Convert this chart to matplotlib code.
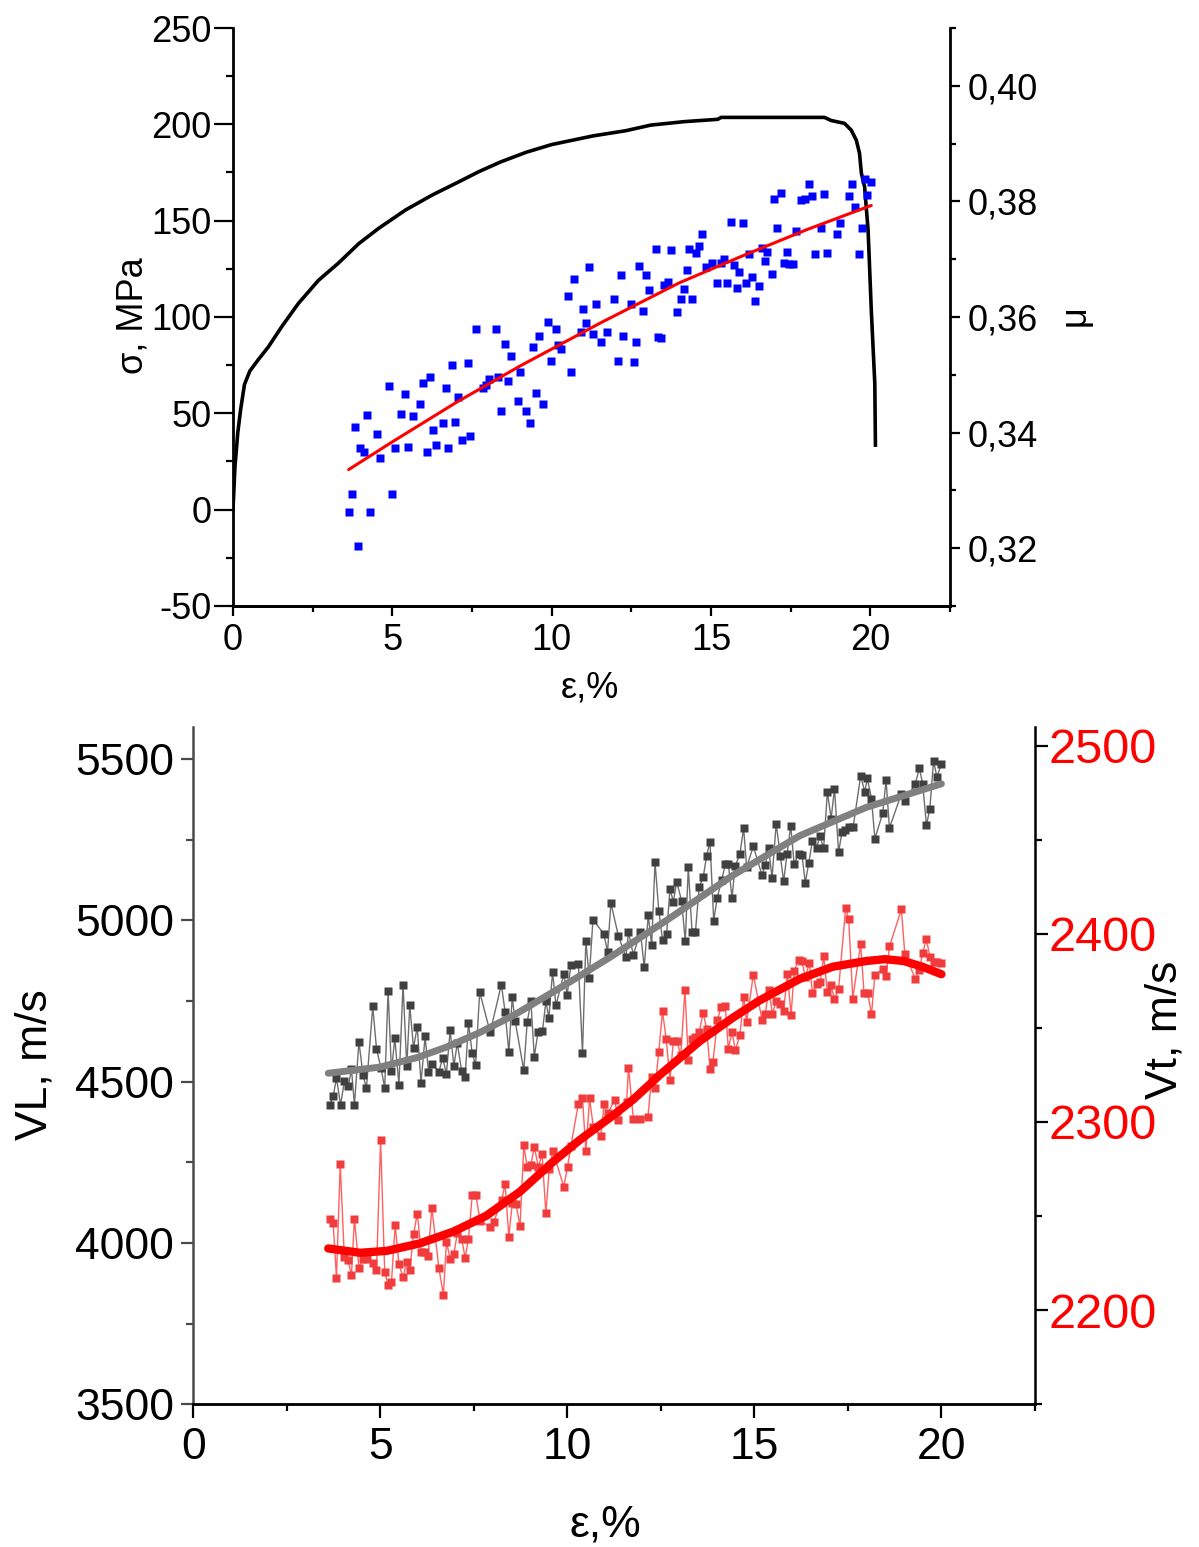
import numpy as np
import matplotlib
matplotlib.use("Agg")
import matplotlib.pyplot as plt
from matplotlib.ticker import MultipleLocator, FuncFormatter

plt.rcParams['font.family'] = ['Liberation Sans', 'DejaVu Sans']
plt.rcParams['axes.unicode_minus'] = False

W, H = 1199, 1547

# ---- top panel: stress-strain curve (left axis) ----
curve_strain = [0.0, 0.06, 0.15, 0.24, 0.36, 0.53, 0.80, 1.11, 1.53, 2.05,
                2.68, 3.31, 3.94, 4.57, 5.41, 6.25, 7.09, 7.71, 8.4, 9.2,
                10.0, 11.3, 12.33, 13.11, 14.16, 15.21, 15.32, 18.56, 18.77, 19.19,
                19.40, 19.56, 19.66, 19.72, 19.82, 19.93, 20.03, 20.14, 20.16]
curve_stress = [0, 22, 40, 52, 65, 72, 78, 84.5, 95, 107,
                119, 128, 138, 146, 155.5, 163.3, 170.2, 175.4, 180.5, 185.5,
                189.5, 194, 196.7, 199.6, 201.4, 202.6, 203.6, 203.6, 202, 200.5,
                197, 191.8, 185, 174.5, 167.6, 145, 103.6, 65.5, 33.5]

# ---- top panel: friction coefficient mu (right axis) ----
mu_strain = [3.63, 3.73, 3.92, 4.31, 5.00, 3.82, 4.22, 4.53, 4.00, 4.11,
             4.61, 4.91, 5.09, 5.41, 5.28, 5.49, 5.66, 5.88, 5.97, 6.18,
             6.28, 6.08, 6.36, 6.58, 6.67, 6.75, 6.87, 6.98, 7.06, 7.20,
             7.45, 7.37, 7.64, 7.84, 7.93, 8.03, 8.24, 8.33, 8.42, 8.54,
             8.64, 8.72, 8.94, 9.02, 9.20, 9.33, 9.42, 9.51, 9.59, 9.73,
             9.90, 9.99, 10.13, 10.21, 10.29, 10.51, 10.60, 10.69, 10.91, 10.99,
             11.08, 11.16, 11.30, 11.39, 11.56, 11.74,
             11.96, 12.09, 12.17, 12.25, 12.48, 12.57, 12.66, 12.75, 12.87, 12.97,
             13.05, 13.27, 13.35, 13.44, 13.53, 13.65, 13.74, 13.93, 14.06, 14.14,
             14.24, 14.32, 14.40, 14.54, 14.62, 14.71, 14.84, 15.02, 15.20, 15.31,
             15.41, 15.49, 15.63, 15.71, 15.81, 15.89, 16.01, 16.11, 16.20, 16.29,
             16.38, 16.51, 16.59, 16.68, 16.77, 16.90, 16.97, 17.08, 17.20, 17.28,
             17.38, 17.46, 17.56, 17.68, 17.83, 17.96, 18.07, 18.17, 18.25, 18.46,
             18.54, 18.65, 18.95, 19.04, 19.33, 19.42, 19.53, 19.66, 19.74, 19.82,
             19.91, 20.03]
mu_vals = [0.3263, 0.3294, 0.3203, 0.3263, 0.3294, 0.3409, 0.3430, 0.3397, 0.3374, 0.3366,
           0.3356, 0.3481, 0.3373, 0.3467, 0.3433, 0.3375, 0.3429, 0.3449, 0.3486, 0.3497,
           0.3404, 0.3366, 0.3378, 0.3416, 0.3478, 0.3373, 0.3517, 0.3418, 0.3462, 0.3387,
           0.3394, 0.3520, 0.3579, 0.3477, 0.3483, 0.3493, 0.3579, 0.3497, 0.3438, 0.3553,
           0.3490, 0.3533, 0.3454, 0.3505, 0.3438, 0.3416, 0.3548, 0.3469, 0.3567, 0.3449,
           0.3591, 0.3524, 0.3579, 0.3552, 0.3545, 0.3637, 0.3505, 0.3666, 0.3574, 0.3613,
           0.3589, 0.3687, 0.3570, 0.3622, 0.3557, 0.3574,
           0.3632, 0.3524, 0.3672, 0.3567, 0.3622, 0.3522, 0.3557, 0.3689, 0.3610, 0.3672,
           0.3646, 0.3718, 0.3565, 0.3563, 0.3655, 0.3660, 0.3716, 0.3608, 0.3632, 0.3648,
           0.3682, 0.3718, 0.3632, 0.3711, 0.3722, 0.3744, 0.3687, 0.3694, 0.3658, 0.3694,
           0.3701, 0.3658, 0.3764, 0.3690, 0.3651, 0.3678, 0.3763, 0.3658, 0.3709, 0.3670,
           0.3627, 0.3653, 0.3720, 0.3697, 0.3713, 0.3675, 0.3805, 0.3754, 0.3815, 0.3694,
           0.3713, 0.3692, 0.3692, 0.3748, 0.3802, 0.3804, 0.3830, 0.3809, 0.3709, 0.3754,
           0.3813, 0.3711, 0.3744, 0.3763, 0.3810, 0.3830, 0.3790, 0.3709, 0.3754, 0.3838,
           0.3811, 0.3833]
mu_fit_strain = [3.63, 5.0, 7.0, 9.0, 11.54, 14.0, 16.0, 18.0, 20.03]
mu_fit_vals = [0.3336, 0.3384, 0.3452, 0.3515, 0.3590, 0.3659, 0.3706, 0.3751, 0.3793]

# ---- bottom panel: longitudinal velocity VL (left axis) ----
vl_strain = [3.65, 3.74, 3.83, 3.94, 4.04, 4.15, 4.23, 4.31, 4.43, 4.54,
             4.63, 4.80, 4.90, 5.02, 5.12, 5.21, 5.30, 5.39, 5.50, 5.61,
             5.71, 5.79, 5.89, 5.99, 6.09, 6.20, 6.29, 6.38, 6.57, 6.67,
             6.77, 6.87, 6.97, 7.06, 7.18, 7.27, 7.36, 7.46, 7.55, 7.66,
             7.94, 8.24, 8.34, 8.44, 8.53, 8.61, 8.84, 8.93, 9.03, 9.12,
             9.22, 9.34, 9.43, 9.51, 9.61, 9.70, 9.91, 10.00, 10.10, 10.30,
             10.41, 10.50, 10.59, 10.69, 10.98, 11.08, 11.17, 11.37, 11.57, 11.64,
             11.77, 11.96, 12.06, 12.17, 12.26, 12.35, 12.45, 12.55, 12.66, 12.75,
             12.84, 12.93, 13.06, 13.16, 13.24, 13.34, 13.43, 13.53, 13.64, 13.73,
             13.82, 13.92, 14.01, 14.13, 14.23, 14.31, 14.41, 14.49, 14.62, 14.72,
             14.80, 14.98, 15.21, 15.30, 15.39, 15.48, 15.59, 15.70, 15.79, 15.88,
             15.98, 16.07, 16.19, 16.28, 16.37, 16.46, 16.56, 16.67, 16.76, 16.86,
             16.96, 17.06, 17.15, 17.26, 17.35, 17.44, 17.55, 17.65, 17.85, 17.96,
             18.03, 18.14, 18.23, 18.44, 18.53, 18.62, 18.94, 19.03, 19.31, 19.42,
             19.51, 19.61, 19.70, 19.80, 19.89, 20.01]
vl_vals = [4428, 4454, 4511, 4428, 4501, 4487, 4539, 4428, 4623, 4521,
           4479, 4733, 4602, 4542, 4481, 4782, 4532, 4635, 4491, 4801,
           4547, 4736, 4605, 4670, 4496, 4640, 4531, 4556, 4531, 4574,
           4524, 4659, 4548, 4619, 4532, 4513, 4681, 4588, 4552, 4778,
           4653, 4801, 4716, 4591, 4761, 4687, 4535, 4684, 4749, 4577,
           4654, 4657, 4749, 4698, 4840, 4736, 4833, 4769, 4862, 4864,
           4588, 4937, 4822, 5002, 4958, 4903, 5053, 4952, 4886, 4963,
           4893, 4965, 4855, 5016, 4923, 5180, 5030, 4940, 4957, 5097,
           5058, 5119, 5061, 4935, 5165, 4963, 4963, 5102, 5134, 5200,
           5244, 4998, 5068, 5124, 5173, 5175, 5069, 5167, 5205, 5286,
           5165, 5229, 5140, 5172, 5223, 5131, 5299, 5200, 5121, 5205,
           5293, 5175, 5205, 5203, 5116, 5177, 5247, 5224, 5260, 5224,
           5398, 5315, 5408, 5211, 5273, 5281, 5289, 5289, 5448, 5398,
           5440, 5377, 5253, 5332, 5434, 5286, 5392, 5369, 5423, 5471,
           5423, 5294, 5346, 5494, 5444, 5485]
vl_fit_strain = [3.61, 4.99, 6.0, 6.77, 7.66, 8.56, 9.8, 10.34, 11.14, 12.66,
                 14.44, 16.22, 18.0, 20.01]
vl_fit_vals = [4526, 4545, 4575, 4607, 4652, 4705, 4790, 4828, 4885, 5000,
               5140, 5262, 5350, 5423]

# ---- bottom panel: transverse velocity Vt (right axis) ----
vt_strain = [3.65, 3.74, 3.83, 3.93, 4.04, 4.14, 4.23, 4.31, 4.43, 4.54,
             4.64, 4.80, 4.90, 5.01, 5.12, 5.21, 5.30, 5.40, 5.50, 5.61,
             5.71, 5.79, 5.89, 5.99, 6.10, 6.20, 6.28, 6.38, 6.57, 6.69,
             6.77, 6.87, 6.97, 7.06, 7.18, 7.27, 7.36, 7.46, 7.56, 7.67,
             7.94, 8.04, 8.25, 8.34, 8.44, 8.53, 8.63, 8.74, 8.84, 8.93,
             9.03, 9.12, 9.23, 9.33, 9.43, 9.52, 9.62, 9.91, 10.01, 10.10,
             10.30, 10.41, 10.50, 10.60, 10.70, 10.90, 10.99, 11.08, 11.27, 11.37,
             11.59, 11.64,
             11.77, 11.96, 12.16, 12.26, 12.35, 12.45, 12.55, 12.65, 12.75, 12.84,
             12.93, 13.04, 13.15, 13.24, 13.33, 13.42, 13.53, 13.64, 13.73, 13.82,
             13.90, 14.02, 14.12, 14.23, 14.31, 14.41, 14.50, 14.62, 14.72, 14.80,
             14.98, 15.21, 15.30, 15.39, 15.49, 15.59, 15.70, 15.79, 15.89, 15.99,
             16.07, 16.19, 16.28, 16.37, 16.48, 16.56, 16.67, 16.77, 16.86, 16.96,
             17.05, 17.15, 17.26, 17.45, 17.53, 17.64, 17.85, 17.94, 18.04, 18.14,
             18.23, 18.44, 18.53, 18.62, 18.94, 19.03, 19.31, 19.42, 19.51, 19.61,
             19.70, 19.80, 19.89, 20.01]
vt_vals = [2248.7, 2246.5, 2217.3, 2277.6, 2228.1, 2226.8, 2218.5, 2248.7, 2222.6, 2227.2,
           2227.2, 2224.9, 2221.3, 2290.2, 2220.1, 2213.5, 2214.8, 2245.2, 2224.5, 2217.4,
           2225.8, 2221.3, 2240.3, 2251.2, 2230.9, 2230.7, 2228.8, 2254.4, 2222.2, 2208.1,
           2236.4, 2227.2, 2229.8, 2240.8, 2237.8, 2227.9, 2237.8, 2261.0, 2261.0, 2247.5,
           2244.3, 2247.0, 2258.8, 2267.0, 2239.0, 2256.7, 2256.4, 2244.7, 2287.5, 2276.2,
           2277.1, 2286.8, 2276.2, 2282.9, 2251.4, 2274.8, 2284.5, 2265.6, 2276.2, 2287.3,
           2309.8, 2312.8, 2284.5, 2312.5, 2297.1, 2292.6, 2309.8, 2304.5, 2311.6, 2301.3,
           2310.7, 2328.9,
           2301.8, 2301.8, 2302.7, 2324.0, 2317.8, 2337.0, 2358.8, 2343.9, 2322.5, 2342.9,
           2342.9, 2335.5, 2370.3, 2332.8, 2344.3, 2345.2, 2347.8, 2357.9, 2349.6, 2328.4,
           2331.9, 2354.4, 2361.1, 2361.5, 2339.0, 2347.8, 2338.1, 2346.1, 2366.4, 2353.2,
           2378.3, 2354.4, 2357.6, 2370.3, 2357.6, 2364.1, 2362.9, 2358.8, 2378.8, 2356.7,
           2380.2, 2385.9, 2385.5, 2377.0, 2384.5, 2368.5, 2373.5, 2374.4, 2388.0, 2369.1,
           2372.6, 2365.5, 2370.8, 2413.8, 2407.6, 2365.5, 2394.7, 2368.5, 2368.5, 2357.2,
           2377.9, 2381.5, 2377.4, 2393.3, 2412.9, 2389.4, 2376.2, 2380.6, 2390.0, 2397.2,
           2387.7, 2385.0, 2385.0, 2384.6]
vt_fit_strain = [3.61, 4.46, 5.17, 6.06, 6.95, 7.84, 8.74, 9.63, 10.34, 11.23,
                 11.77, 12.48, 13.55, 14.44, 15.15, 16.22, 17.11, 18.0, 18.5, 19.0,
                 19.5, 20.01]
vt_fit_vals = [2232.8, 2230.5, 2231.5, 2235.5, 2241.7, 2250.2, 2263.0, 2279.0, 2290.5, 2303.5,
               2312.0, 2325.0, 2343.0, 2355.5, 2364.6, 2376.0, 2382.5, 2385.5, 2386.5, 2385.5,
               2382.5, 2378.5]

x_ticks = [0, 5, 10, 15, 20]
sigma_ticks = [-50, 0, 50, 100, 150, 200, 250]
mu_ticks = [0.32, 0.34, 0.36, 0.38, 0.40]
vl_ticks = [3500, 4000, 4500, 5000, 5500]
vt_ticks = [2200, 2300, 2400, 2500]


def px_axes(x0, y0, x1, y1):
    return [x0 / W, 1 - y1 / H, (x1 - x0) / W, (y1 - y0) / H]


fig = plt.figure(figsize=(W / 100, H / 100), dpi=100)

# ================= top panel =================
ax1 = fig.add_axes(px_axes(233, 28, 950, 606))
ax2 = ax1.twinx()

ax1.plot(curve_strain, curve_stress, color='black', lw=2.6, solid_joinstyle='round')
ax2.plot(mu_strain, mu_vals, 's', color='#0000ff', ms=5.2, mec='none')
ax2.plot(mu_fit_strain, mu_fit_vals, color='#ff0000', lw=2.2, solid_capstyle='round')

ax1.set_xlim(0, 22.5)
ax1.set_ylim(-50, 250)
ax2.set_ylim(0.31, 0.41)
ax1.set_xticks(x_ticks)
ax1.set_yticks(sigma_ticks)
ax2.set_yticks(mu_ticks)
ax1.xaxis.set_minor_locator(MultipleLocator(2.5))
ax1.yaxis.set_minor_locator(MultipleLocator(25))
ax2.yaxis.set_minor_locator(MultipleLocator(0.01))
ax2.yaxis.set_major_formatter(FuncFormatter(lambda v, p: f"{v:.2f}".replace('.', ',')))

for a in (ax1, ax2):
    a.spines['top'].set_visible(False)
    for s in a.spines.values():
        s.set_linewidth(2.0)
ax1.spines['right'].set_visible(False)
ax2.spines['left'].set_visible(False)

ax1.tick_params(axis='y', which='major', direction='out', length=14, width=1.6,
                labelsize=26, pad=1.5)
ax1.tick_params(axis='y', which='minor', direction='out', length=5, width=1.6)
ax1.tick_params(axis='x', which='major', direction='out', length=7.2, width=1.6,
                labelsize=26, pad=5)
ax1.tick_params(axis='x', which='minor', direction='out', length=4.3, width=1.6)
ax2.tick_params(axis='y', which='major', direction='out', length=7.2, width=1.6,
                labelsize=26, pad=5.8)
ax2.tick_params(axis='y', which='minor', direction='out', length=4.3, width=1.6)

fig.text(133 / W, 1 - 316 / H, 'σ, MPa', rotation=90, fontsize=26, ha='center', va='center')
fig.text(590 / W, 1 - 688 / H, 'ε,%', fontsize=26, ha='center', va='center')
fig.text(1075 / W, 1 - 316 / H, 'μ', rotation=90, fontsize=26, ha='center', va='center')

# ================= bottom panel =================
ax3 = fig.add_axes(px_axes(193.3, 726.7, 1034.5, 1404.3))
ax4 = ax3.twinx()

ax3.plot(vl_strain, vl_vals, '-', color='#6e6e6e', lw=1.0)
ax3.plot(vl_strain, vl_vals, 's', color='#404040', ms=5.2, mec='none')
ax3.plot(vl_fit_strain, vl_fit_vals, color='#808080', lw=5.0, solid_capstyle='round',
         solid_joinstyle='round')

ax4.plot(vt_strain, vt_vals, '-', color='#ff6060', lw=1.0)
ax4.plot(vt_strain, vt_vals, 's', color='#f03c3c', ms=5.2, mec='none')
ax4.plot(vt_fit_strain, vt_fit_vals, color='#ff0000', lw=6.0, solid_capstyle='round',
         solid_joinstyle='round')

ax3.set_xlim(0, 22.5)
ax3.set_ylim(3500, 5600)
ax4.set_ylim(2150, 2510)
ax3.set_xticks(x_ticks)
ax3.set_yticks(vl_ticks)
ax4.set_yticks(vt_ticks)
ax3.xaxis.set_minor_locator(MultipleLocator(2.5))
ax3.yaxis.set_minor_locator(MultipleLocator(250))
ax4.yaxis.set_minor_locator(MultipleLocator(50))

for a in (ax3, ax4):
    a.spines['top'].set_visible(False)
    for s in a.spines.values():
        s.set_linewidth(1.8)
ax3.spines['right'].set_visible(False)
ax4.spines['left'].set_visible(False)
ax3.spines['left'].set_color('#4a4a4a')
ax3.spines['bottom'].set_color('#202020')

ax3.tick_params(axis='y', which='major', direction='out', length=9, width=1.6,
                labelsize=32, pad=5, color='#4a4a4a')
ax3.tick_params(axis='y', which='minor', direction='out', length=5, width=1.6, color='#4a4a4a')
ax3.tick_params(axis='x', which='major', direction='out', length=10, width=1.6,
                labelsize=32, pad=6.5)
ax3.tick_params(axis='x', which='minor', direction='out', length=5, width=1.6)
ax4.tick_params(axis='y', which='major', direction='out', length=9, width=1.6,
                labelsize=35, pad=1, labelcolor='#ff0000')
ax4.tick_params(axis='y', which='minor', direction='out', length=5, width=1.6)

fig.text(35 / W, 1 - 1065 / H, 'VL, m/s', rotation=90, fontsize=32, ha='center', va='center')
fig.text(1165 / W, 1 - 1030 / H, 'Vt, m/s', rotation=90, fontsize=32, ha='center', va='center')
fig.text(605 / W, 1 - 1525 / H, 'ε,%', fontsize=32, ha='center', va='center')

fig.savefig('out.png', dpi=100)
